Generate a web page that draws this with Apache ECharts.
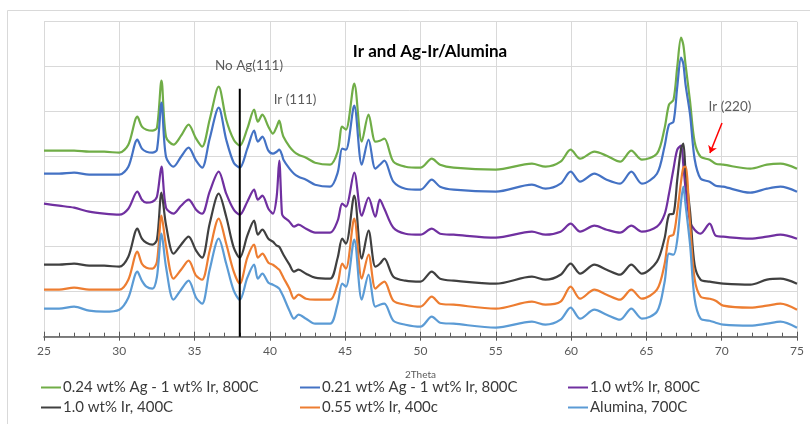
<!DOCTYPE html>
<html>
<head>
<meta charset="utf-8">
<script src="https://cdn.jsdelivr.net/npm/echarts@6/dist/echarts.min.js"></script>
<style>
html,body{margin:0;padding:0;background:#fff;}
#c{width:810px;height:424px;}
</style>
</head>
<body>
<div id="c"></div>
<script>
// 2Theta sample positions
const twoTheta = [25,26,27,28,29,30, 30.6,31.2,31.5,31.8,32.2,32.5,32.8,33.1,33.6,34.1,
  34.6,35.1,35.5,36.0,36.6,37.1,37.6,38.0,38.5,38.95, 39.2,39.5,39.9,40.2,40.45,40.62,40.8,40.9,41.3,41.6,
  41.9,42.4,43,44,44.5,44.8,45.05,45.6,46.1,46.55, 47.0,47.3,47.6,48.2,49,50,50.75,51.3,52.2,55,
  57.4,58.3,59.3,59.97,60.6,61.55,62.36,63.25,64.0,64.7, 65.7,66.2,66.5,66.8,67.05,67.3,67.45,67.6,67.9,68.2,
  68.6,69.2,69.6,70.1,71.9,73.0,73.9,75];

// Offset intensities (arbitrary units)
const agIr024_800 = [186,186,186,185,185,184, 192,220,210,207,206,209,256,200,192,201, 212,198,190,217,250,217,197,191,208,227, 215,222,210,203,210,216,205,200,190,185, 182,179,174,172,185,210,207,253,195,222, 195,196,198,175,170,169,178,172,169,167, 173,170,175,187,178,185,181,175,186,177, 183,208,232,237,270,299,292,272,235,195, 180,177,173,172,168,172,173,168];
const agIr021_800 = [163,163,164,162,162,162, 170,197,188,185,184,187,234,180,170,180, 189,176,169,198,229,197,174,169,188,206, 195,200,186,183,185,187,182,177,168,163, 160,157,152,150,164,188,187,231,172,197, 168,172,176,155,148,147,157,150,147,145, 152,148,153,165,155,163,157,153,165,153, 163,190,212,215,250,279,273,252,222,178, 158,155,151,150,144,148,150,145];
const ir10_800 = [133,131,129,125,123,122, 128,145,137,134,135,140,170,129,123,131, 137,127,123,145,165,143,127,122,135,147, 137,141,128,123,140,176,123,120,115,110, 112,108,104,104,116,133,130,164,121,139, 120,137,128,109,103,102,108,103,102,99, 105,102,105,113,105,111,107,104,111,105, 110,122,143,168,187,191,172,148,115,107, 103,113,101,100,98,100,102,98];
const ir10_400 = [72,72,73,71,71,70, 80,108,98,94,92,97,144,112,83,92, 100,86,79,113,143,120,89,79,101,116, 102,107,98,95,91,90,85,82,72,65, 67,63,59,58,79,98,93,141,78,106, 70,73,78,60,56,55,65,58,56,53, 60,57,62,73,63,72,67,62,72,63, 75,98,122,123,157,188,193,165,125,72, 57,55,54,53,52,57,58,53];
const ir055_400 = [47,47,49,47,47,47, 57,85,73,69,68,75,121,91,58,67, 76,61,57,86,118,93,65,53,79,92, 79,83,74,72,69,67,62,59,48,38, 42,38,37,37,53,73,68,118,58,82, 48,52,55,36,32,30,40,33,32,28, 35,32,35,50,38,47,42,37,47,38, 47,72,100,102,125,155,169,170,112,58, 40,38,36,31,29,31,33,27];
const alumina700 = [28,28,30,26,25,27, 39,65,56,50,48,60,103,70,37,47, 56,39,33,67,98,73,46,37,59,72, 58,63,54,52,50,48,43,40,26,18, 22,18,13,13,33,53,50,97,37,62, 30,32,33,16,12,10,20,14,13,9, 15,12,17,29,18,27,22,17,28,18, 25,54,83,82,97,135,150,132,92,38, 18,16,14,12,11,13,15,9];

const seriesNames = ['0.24 wt% Ag - 1 wt% Ir, 800C','0.21 wt% Ag - 1 wt% Ir, 800C','1.0 wt% Ir, 800C',
  '1.0 wt% Ir, 400C','0.55 wt% Ir, 400c','Alumina, 700C'];
const seriesValues = [agIr024_800, agIr021_800, ir10_800, ir10_400, ir055_400, alumina700];
const seriesColors = ['#70AD47','#4472C4','#7030A0','#404040','#ED7D31','#5B9BD5'];

const xTicks = {min:25, max:75, step:5};
const yRange = {min:0, max:315, step:45};

// Reference line for Ag(111) and annotations
const agLine = [[38,0],[38,248]];
const arrow220 = [[70.02,213.7],[69.22,183.7]];
const annotations = [
  {name:'No Ag(111)', value:[38.61,270.7]},
  {name:'Ir (111)', value:[41.67,236.7]},
  {name:'Ir (220)', value:[70.55,229.7]}
];

const FONT = 'Lato, "Open Sans", sans-serif';
const chart = echarts.init(document.getElementById('c'), null, {renderer:'canvas'});

const lineSeries = seriesNames.map((n,i)=>({
  name:n, type:'line', xAxisIndex:0, yAxisIndex:0,
  data: twoTheta.map((t,k)=>[t, seriesValues[i][k]]),
  showSymbol:false, smooth:0.3,
  lineStyle:{width:2.2, color:seriesColors[i]}, itemStyle:{color:seriesColors[i]},
  z: 2+i
}));

function colLegend(left, names){
  return {
    left:left, top:375, orient:'vertical', itemGap:5,
    itemWidth:20, itemHeight:14, data:names,
    textStyle:{fontFamily:FONT, fontSize:15, color:'#3a3a3a', padding:[0,0,0,-3]},
    selectedMode:false, icon:'path://M0,6 L20,6 L20,8 L0,8 Z'
  };
}

chart.setOption({
  animation:false,
  backgroundColor:'#fff',
  textStyle:{fontFamily:FONT},
  title:{text:'Ir and Ag-Ir/Alumina', left:425, top:38, textAlign:'center',
    textStyle:{fontFamily:FONT, fontSize:17, fontWeight:'bold', color:'#000'}},
  graphic:[{type:'rect', left:5, top:8, shape:{width:830, height:440}, style:{fill:'none', stroke:'#d9d9d9', lineWidth:1}, silent:true, z:-10}],
  legend:[colLegend(36,[seriesNames[0],seriesNames[3]]), colLegend(295,[seriesNames[1],seriesNames[4]]), colLegend(563,[seriesNames[2],seriesNames[5]])],
  grid:{left:44, right:13, top:21.7, bottom:87.3, containLabel:false},
  xAxis:[{
    type:'value', min:xTicks.min, max:xTicks.max, interval:xTicks.step,
    name:'2Theta', nameLocation:'middle', nameGap:33,
    nameTextStyle:{fontFamily:FONT, fontSize:10, color:'#595959'},
    axisLine:{lineStyle:{color:'#595959', width:1.5}},
    axisTick:{inside:true, length:5, lineStyle:{color:'#595959'}},
    minorTick:{show:true, splitNumber:5, length:4, lineStyle:{color:'#595959'}},
    axisLabel:{fontFamily:FONT, fontSize:12, color:'#595959', margin:8},
    splitLine:{show:true, lineStyle:{color:'#d9d9d9', width:1}}
  },{
    type:'value', position:'bottom', min:xTicks.min, max:xTicks.max, interval:xTicks.step,
    axisLine:{show:false}, axisTick:{show:true, inside:false, length:4, lineStyle:{color:'#595959'}},
    axisLabel:{show:false}, splitLine:{show:false}
  }],
  yAxis:{type:'value', min:yRange.min, max:yRange.max, interval:yRange.step,
    axisLine:{show:false}, axisTick:{show:false}, axisLabel:{show:false},
    splitLine:{show:true, lineStyle:{color:'#d9d9d9', width:1}}},
  series:[
    ...lineSeries,
    {name:'agline', type:'line', data:agLine, showSymbol:false, silent:true,
      lineStyle:{color:'#000', width:2}, z:20},
    {name:'arrow', type:'lines', coordinateSystem:'cartesian2d', silent:true,
      data:[{coords:arrow220}], symbol:['none','arrow'], symbolSize:7,
      lineStyle:{color:'#ff0000', width:1.5, opacity:1}, z:21},
    {name:'labels', type:'scatter', data:annotations, symbolSize:0, silent:true,
      label:{show:true, position:'inside', formatter:'{b}', fontFamily:FONT, fontSize:13.5, color:'#333'}, z:22}
  ]
});
</script>
</body>
</html>
